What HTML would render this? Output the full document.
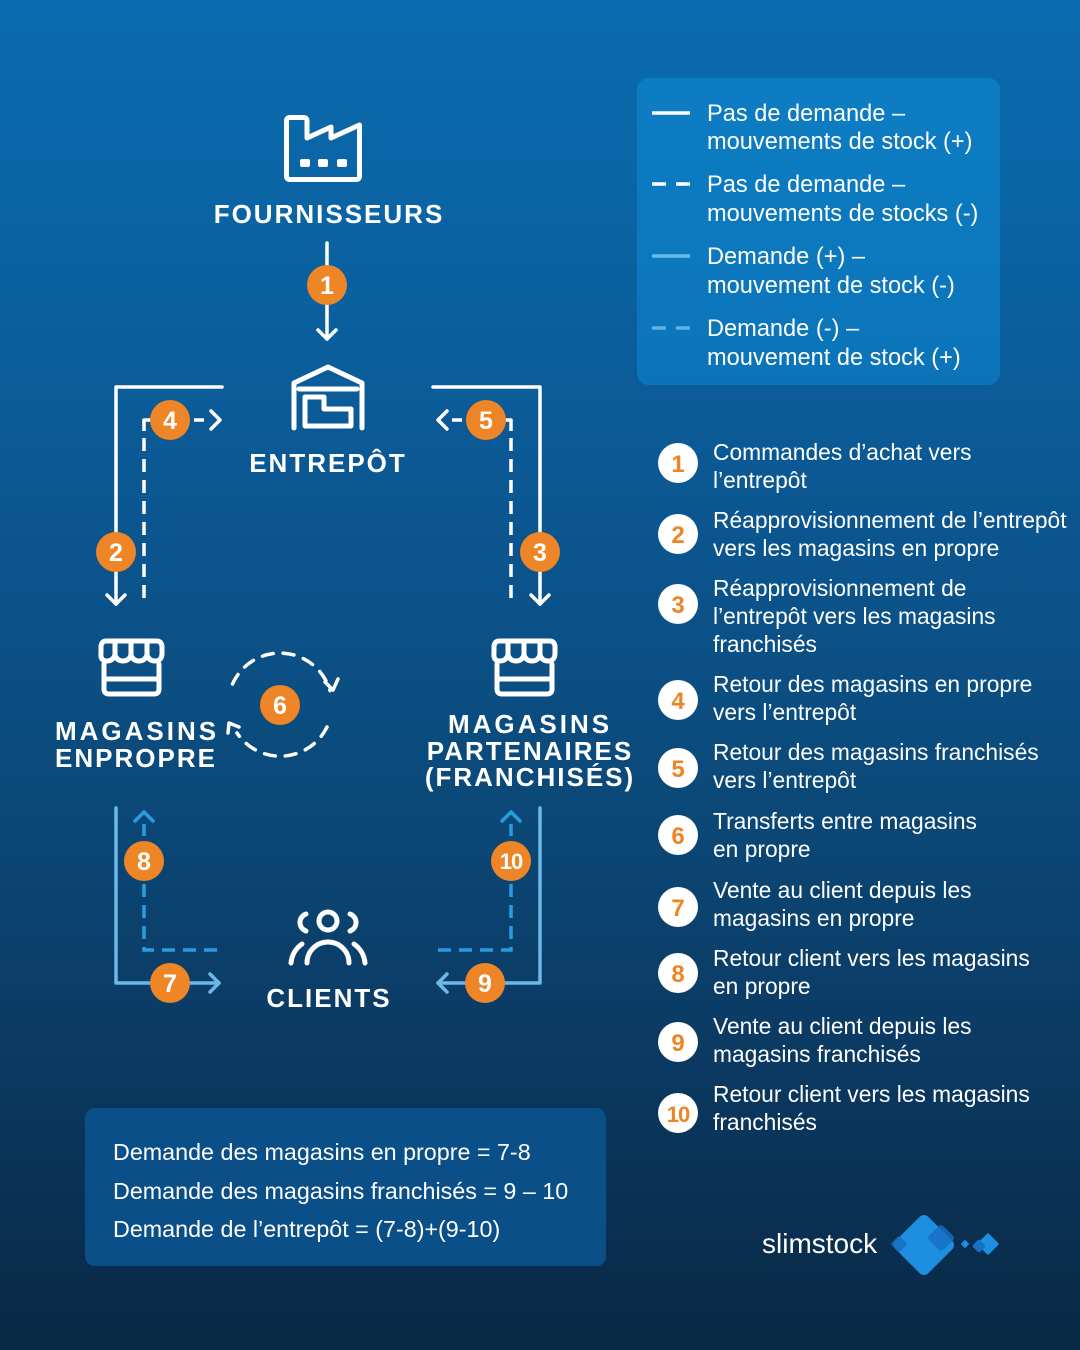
<!DOCTYPE html>
<html><head><meta charset="utf-8">
<style>
html,body{margin:0;padding:0;}
body{width:1080px;height:1350px;overflow:hidden;background:linear-gradient(180deg,#0a6cae 0%,#0b609f 22%,#0b548d 42%,#0b4877 60%,#0b3c66 75%,#0a3053 90%,#0a2944 100%);}
svg{display:block;}
text{font-family:"Liberation Sans",sans-serif;fill:#fff;}
.h{font-weight:700;font-size:26px;letter-spacing:2px;}
.t{font-size:23.6px;}
.l{font-size:22.8px;}
.on{font-weight:700;font-size:25px;fill:#fff;}
.wn{font-weight:700;font-size:24px;fill:#ef8424;}
</style></head><body>
<svg width="1080" height="1350" viewBox="0 0 1080 1350">
<defs>
<linearGradient id="lg" x1="0" y1="0" x2="0" y2="1">
<stop offset="0" stop-color="#0d7dc3"/><stop offset="1" stop-color="#0b74b9"/>
</linearGradient>
</defs>

<!-- Legend box -->
<rect x="637" y="78" width="363" height="307" rx="12" fill="url(#lg)"/>
<g stroke-width="3.5" fill="none">
<line x1="652" y1="113" x2="690" y2="113" stroke="#fff"/>
<line x1="652" y1="184" x2="690" y2="184" stroke="#fff" stroke-dasharray="14 10"/>
<line x1="652" y1="256" x2="690" y2="256" stroke="#6cb9e8"/>
<line x1="652" y1="328" x2="690" y2="328" stroke="#5fb2e6" stroke-dasharray="14 10"/>
</g>
<text class="t" x="707" y="121">Pas de demande –</text>
<text class="t" x="707" y="149">mouvements de stock (+)</text>
<text class="t" x="707" y="192">Pas de demande –</text>
<text class="t" x="707" y="221">mouvements de stocks (-)</text>
<text class="t" x="707" y="264">Demande (+) –</text>
<text class="t" x="707" y="293">mouvement de stock (-)</text>
<text class="t" x="707" y="336">Demande (-) –</text>
<text class="t" x="707" y="365">mouvement de stock (+)</text>

<!-- Factory icon -->
<g fill="none" stroke="#fff" stroke-width="5" stroke-linejoin="round" stroke-linecap="round">
<path d="M290 179.5 Q286.5 179.5 286.5 176 V121 Q286.5 117.5 290 117.5 H303.5 Q307 117.5 307 121 V138 L331 127 V138 L359.5 125 V176 Q359.5 179.5 356 179.5 Z"/>
</g>
<rect x="300" y="159" width="10" height="8" rx="2" fill="#fff"/>
<rect x="318" y="159" width="10" height="8" rx="2" fill="#fff"/>
<rect x="337" y="159" width="10" height="8" rx="2" fill="#fff"/>
<text class="h" x="329" y="223" text-anchor="middle">FOURNISSEURS</text>

<!-- Arrow 1 -->
<g fill="none" stroke="#fff" stroke-width="3.5" stroke-linecap="round" stroke-linejoin="round">
<path d="M327 243 V339"/>
<polyline points="318,330 327,339 336,330"/>
</g>

<!-- Warehouse icon -->
<g fill="none" stroke="#fff" stroke-width="5" stroke-linejoin="round" stroke-linecap="round">
<path d="M294 428 V383 L328 367 L362 383 V428"/>
<path d="M299 389 H357"/>
<path d="M305 426 V397 H324 V409 H351 V426 Z"/>
</g>
<text class="h" x="328" y="472" text-anchor="middle">ENTREPÔT</text>

<!-- Top connectors -->
<g fill="none" stroke="#fff" stroke-width="3.5" stroke-linejoin="round" stroke-linecap="round">
<path d="M222 387 H116 V604"/>
<polyline points="107,595 116,604 125,595"/>
<path d="M433 387 H540 V604"/>
<polyline points="531,595 540,604 549,595"/>
<polyline points="211,411 220,420 211,429"/>
<polyline points="447,411 438,420 447,429"/>
</g>
<g fill="none" stroke="#fff" stroke-width="3.5">
<path d="M144 598 V438" stroke-dasharray="13 8"/>
<path d="M144 431 V420 H152" stroke-linejoin="round"/>
<path d="M194 420 H204"/>
<path d="M511 598 V438" stroke-dasharray="13 8"/>
<path d="M511 431 V420 H503" stroke-linejoin="round"/>
<path d="M462 420 H452"/>
</g>

<!-- Stores -->
<g id="store" fill="none" stroke="#fff" stroke-width="5" stroke-linejoin="round" stroke-linecap="round">
<path d="M106 641 H157 Q161 641 162 646 L162 653 Q162 661 155 661 Q149 661 147 655 Q145 661 139 661 Q133 661 131 655 Q129 661 123 661 Q117 661 115 655 Q113 661 107 661 Q100 661 101 653 L101 646 Q102 641 106 641 Z"/>
<path d="M115 644 V655 M131 644 V655 M147 644 V655"/>
<path d="M104 664 V689 Q104 694 109 694 H154 Q159 694 159 689 V664"/>
<path d="M104 679 H159"/>
</g>
<use href="#store" transform="translate(393,0)"/>

<text class="h" x="137" y="740" text-anchor="middle" style="letter-spacing:3px">MAGASINS</text>
<text class="h" x="136" y="767" text-anchor="middle">ENPROPRE</text>

<text class="h" x="530" y="733" text-anchor="middle" style="letter-spacing:3px">MAGASINS</text>
<text class="h" x="530" y="760" text-anchor="middle">PARTENAIRES</text>
<text class="h" x="530" y="786" text-anchor="middle">(FRANCHISÉS)</text>

<!-- Cycle 6 -->
<g fill="none" stroke="#fff" stroke-width="3.5" stroke-linecap="round">
<path d="M232.5 684 A52 52 0 0 1 330 690.7" stroke-dasharray="11 10"/>
<path d="M327 727 A52 52 0 0 1 237 733" stroke-dasharray="11 10"/>
</g>
<g fill="none" stroke="#fff" stroke-width="3.5" stroke-linecap="round" stroke-linejoin="round">
<polyline points="325,682 333,690 338,679"/>
<polyline points="239,727 229,723 228,733"/>
</g>

<!-- Bottom connectors -->
<g fill="none" stroke="#6cb9e8" stroke-width="3.5" stroke-linejoin="round" stroke-linecap="round">
<path d="M116 808 V983 H219"/>
<polyline points="210,974 219,983 210,992"/>
<path d="M540 808 V983 H438"/>
<polyline points="447,974 438,983 447,992"/>
</g>
<g fill="none" stroke="#2a9be0" stroke-width="3.5" stroke-linejoin="round" stroke-linecap="round">
<polyline points="135,821 144,812 153,821"/>
<polyline points="502,821 511,812 520,821"/>
</g>
<g fill="none" stroke="#2a9be0" stroke-width="3.5">
<path d="M144 824 V836"/>
<path d="M511 824 V836"/>
<path d="M144 884 V950 H222" stroke-dasharray="13 8"/>
<path d="M511 884 V950 H433" stroke-dasharray="13 8"/>
</g>

<!-- Clients icon -->
<g fill="none" stroke="#fff" stroke-width="5" stroke-linecap="round">
<circle cx="328" cy="921" r="9"/>
<path d="M306 914 A9 9 0 0 0 306 931"/>
<path d="M350 914 A9 9 0 0 1 350 931"/>
<path d="M307 963 A21 21 0 0 1 349 963"/>
<path d="M291 963 A26 26 0 0 1 302 944"/>
<path d="M365 963 A26 26 0 0 0 354 944"/>
</g>
<text class="h" x="329" y="1007" text-anchor="middle">CLIENTS</text>

<!-- Orange number circles -->
<g fill="#ee8526">
<circle cx="327" cy="285" r="20"/>
<circle cx="116" cy="552" r="20"/>
<circle cx="540" cy="552" r="20"/>
<circle cx="170" cy="420" r="20"/>
<circle cx="486" cy="420" r="20"/>
<circle cx="280" cy="705" r="20"/>
<circle cx="170" cy="983" r="20"/>
<circle cx="144" cy="861" r="20"/>
<circle cx="485" cy="983" r="20"/>
<circle cx="511" cy="861" r="20"/>
</g>
<g text-anchor="middle">
<text class="on" x="327" y="294">1</text>
<text class="on" x="116" y="561">2</text>
<text class="on" x="540" y="561">3</text>
<text class="on" x="170" y="429">4</text>
<text class="on" x="486" y="429">5</text>
<text class="on" x="280" y="714">6</text>
<text class="on" x="170" y="992">7</text>
<text class="on" x="144" y="870">8</text>
<text class="on" x="485" y="992">9</text>
<text class="on" x="511" y="869" style="font-size:22px;letter-spacing:-1px">10</text>
</g>

<!-- Right list -->
<g fill="#fff">
<circle cx="678" cy="463" r="20"/>
<circle cx="678" cy="534" r="20"/>
<circle cx="678" cy="604" r="20"/>
<circle cx="678" cy="700" r="20"/>
<circle cx="678" cy="768" r="20"/>
<circle cx="678" cy="835" r="20"/>
<circle cx="678" cy="907" r="20"/>
<circle cx="678" cy="973" r="20"/>
<circle cx="678" cy="1042" r="20"/>
<circle cx="678" cy="1113" r="20"/>
</g>
<g text-anchor="middle">
<text class="wn" x="678" y="472">1</text>
<text class="wn" x="678" y="543">2</text>
<text class="wn" x="678" y="613">3</text>
<text class="wn" x="678" y="709">4</text>
<text class="wn" x="678" y="777">5</text>
<text class="wn" x="678" y="844">6</text>
<text class="wn" x="678" y="916">7</text>
<text class="wn" x="678" y="982">8</text>
<text class="wn" x="678" y="1051">9</text>
<text class="wn" x="678" y="1122" style="font-size:22px;letter-spacing:-1px">10</text>
</g>
<g>
<text class="l" x="713" y="460">Commandes d’achat vers</text>
<text class="l" x="713" y="488">l’entrepôt</text>
<text class="l" x="713" y="528">Réapprovisionnement de l’entrepôt</text>
<text class="l" x="713" y="556">vers les magasins en propre</text>
<text class="l" x="713" y="596">Réapprovisionnement de</text>
<text class="l" x="713" y="624">l’entrepôt vers les magasins</text>
<text class="l" x="713" y="652">franchisés</text>
<text class="l" x="713" y="692">Retour des magasins en propre</text>
<text class="l" x="713" y="720">vers l’entrepôt</text>
<text class="l" x="713" y="760">Retour des magasins franchisés</text>
<text class="l" x="713" y="788">vers l’entrepôt</text>
<text class="l" x="713" y="829">Transferts entre magasins</text>
<text class="l" x="713" y="857">en propre</text>
<text class="l" x="713" y="898">Vente au client depuis les</text>
<text class="l" x="713" y="926">magasins en propre</text>
<text class="l" x="713" y="966">Retour client vers les magasins</text>
<text class="l" x="713" y="994">en propre</text>
<text class="l" x="713" y="1034">Vente au client depuis les</text>
<text class="l" x="713" y="1062">magasins franchisés</text>
<text class="l" x="713" y="1102">Retour client vers les magasins</text>
<text class="l" x="713" y="1130">franchisés</text>
</g>

<!-- Bottom box -->
<rect x="85" y="1108" width="521" height="158" rx="10" fill="#0b4f88"/>
<text x="113" y="1160" style="font-size:23.3px">Demande des magasins en propre = 7-8</text>
<text x="113" y="1199" style="font-size:23.3px">Demande des magasins franchisés = 9 – 10</text>
<text x="113" y="1237" style="font-size:23.3px">Demande de l’entrepôt = (7-8)+(9-10)</text>

<!-- Logo -->
<text x="762" y="1253" style="font-size:28px">slimstock</text>
<rect x="-23" y="-23" width="46" height="46" rx="6" fill="#1c8fe0" transform="translate(924,1245) rotate(45)"/>
<rect x="-10" y="-10" width="20" height="20" rx="3" fill="#1670c4" opacity="0.85" transform="translate(941,1238) rotate(45)"/>
<rect x="-6" y="-6" width="12" height="12" rx="2" fill="#1670c4" opacity="0.85" transform="translate(899,1244) rotate(45)"/>
<rect x="-3" y="-3" width="6" height="6" fill="#1c8fe0" transform="translate(965,1244) rotate(45)"/>
<rect x="-8" y="-8" width="16" height="16" rx="2" fill="#1c8fe0" transform="translate(988,1244) rotate(45)"/>
<rect x="-5" y="-5" width="10" height="10" rx="2" fill="#1670c4" transform="translate(979,1246) rotate(45)"/>
</svg>
</body></html>
